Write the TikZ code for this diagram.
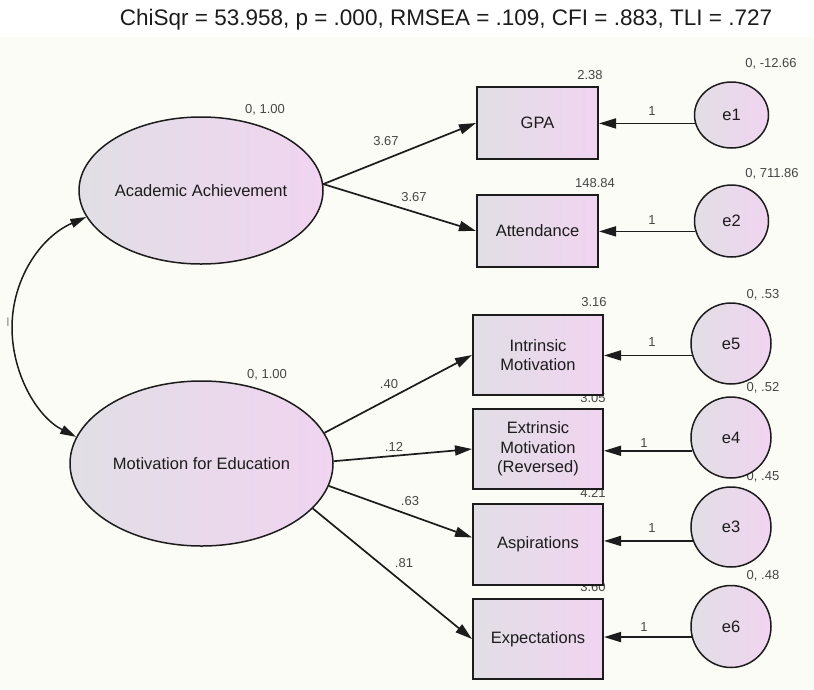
\documentclass[tikz,border=0pt]{standalone}
\usepackage{fontspec}
\setmainfont{Liberation Sans}
\usetikzlibrary{arrows.meta,shapes.geometric}

\definecolor{paper}{RGB}{252,252,246}
\definecolor{shadeL}{RGB}{225,223,229}
\definecolor{shadeR}{RGB}{240,212,240}
\definecolor{ink}{RGB}{28,28,28}
\definecolor{numink}{RGB}{70,70,70}

\begin{document}
\begin{tikzpicture}[x=1pt,y=-1pt,
  every node/.style={font=\fontsize{16.5}{19.3}\selectfont, text=ink},
  latent/.style={ellipse, draw=ink, line width=1.5pt, left color=shadeL, right color=shadeR, inner sep=0pt},
  observed/.style={rectangle, draw=ink, line width=2pt, left color=shadeL, right color=shadeR, inner sep=0pt, align=center},
  errterm/.style={ellipse, draw=ink, line width=1.5pt, left color=shadeL, right color=shadeR, inner sep=0pt},
  est/.style={font=\fontsize{13}{15}\selectfont, text=numink, inner sep=0pt},
  link/.style={draw=ink, line width=1.7pt, -{Triangle[length=17pt,width=10pt]}},
  twoway/.style={draw=ink, line width=1.5pt, {Triangle[length=16pt,width=9pt]}-{Triangle[length=16pt,width=9pt]}},
]
% canvas
\fill[paper] (0,0) rectangle (814,689);
\fill[white] (0,0) rectangle (814,37);
\useasboundingbox (0,0) rectangle (814,689);

% fit statistics
\node[font=\fontsize{22.5}{26}\selectfont] (fit) at (446,20) {ChiSqr = 53.958, p = .000, RMSEA = .109, CFI = .883, TLI = .727};

% estimates placed before the shapes so the shapes overlap them
\node[est] (vAA) at (265,110) {0, 1.00};
\node[est] (vME) at (267,375) {0, 1.00};
\node[est] (iGPA) at (590,75) {2.38};
\node[est] (iATT) at (595,183) {148.84};
\node[est] (iINT) at (594,302) {3.16};
\node[est] (iEXT) at (593,398) {3.05};
\node[est] (iASP) at (593,493) {4.21};
\node[est] (iEXP) at (593,587) {3.60};
\node[est] (v1) at (771,64) {0, -12.66};
\node[est] (v2) at (772,174) {0, 711.86};
\node[est] (v5) at (763,295) {0, .53};
\node[est] (v4) at (763,388) {0, .52};
\node[est] (v3) at (763,477) {0, .45};
\node[est] (v6) at (763,576) {0, .48};

% latent variables
\node[latent, minimum width=244pt, minimum height=147pt, label={[name=aaText]center:Academic Achievement}] (aa) at (201,190.5) {};
\node[latent, minimum width=263pt, minimum height=165pt, label={[name=meText]center:Motivation for Education}] (me) at (201.5,463.5) {};

% observed variables
\node[observed, minimum width=121pt, minimum height=72pt] (gpa) at (537.5,123) {GPA};
\node[observed, minimum width=121pt, minimum height=72pt] (att) at (537.5,231) {Attendance};
\node[observed, minimum width=130pt, minimum height=80pt] (int) at (538,355) {Intrinsic\\Motivation};
\node[observed, minimum width=130pt, minimum height=80pt] (ext) at (538,449) {Extrinsic\\Motivation\\(Reversed)};
\node[observed, minimum width=130pt, minimum height=81pt] (asp) at (538,544.5) {Aspirations};
\node[observed, minimum width=130pt, minimum height=80pt] (exp) at (538,639) {Expectations};

% error terms
\node[errterm, minimum width=74pt, minimum height=66pt] (e1) at (731.5,115) {e1};
\node[errterm, minimum width=74pt, minimum height=72pt] (e2) at (731.5,221) {e2};
\node[errterm, minimum width=80pt, minimum height=81pt] (e5) at (731,343.5) {e5};
\node[errterm, minimum width=80pt, minimum height=81pt] (e4) at (731,437.5) {e4};
\node[errterm, minimum width=80pt, minimum height=80pt] (e3) at (731,527) {e3};
\node[errterm, minimum width=80pt, minimum height=82pt] (e6) at (731,626.5) {e6};

% loadings
\draw[link] (aa.3) -- (gpa.west);
\draw[link] (aa.3) -- (att.west);
\draw[link] (me.14.6) -- (int.west);
\draw[link] (me.1.6) -- (ext.west);
\draw[link] (me.-10.6) -- ([yshift=7pt]asp.west);
\draw[link] (me.-22.6) -- (exp.west);

% error paths
\draw[link] (e1.193) -- (e1.193 -| gpa.east);
\draw[link] (e2.196) -- (e2.196 -| att.east);
\draw[link] (e5.197) -- (e5.197 -| int.east);
\draw[link] (e4.199) -- (e4.199 -| ext.east);
\draw[link] (e3.200) -- (e3.200 -| asp.east);
\draw[link] (e6.195) -- (e6.195 -| exp.east);

% covariance between the latent variables
\draw[twoway] (aa.193) .. controls (39.7,237.3) and (12,280) .. (12,327.5)
  .. controls (12,373) and (36.4,416.5) .. (me.168);

% path labels
\node[est] (lGPA) at (386,141) {3.67};
\node[est] (lATT) at (414,197) {3.67};
\node[est] (lINT) at (389,384) {.40};
\node[est] (lEXT) at (394,447) {.12};
\node[est] (lASP) at (410,501) {.63};
\node[est] (lEXP) at (404,563) {.81};
\node[est] (w1) at (652,111) {1};
\node[est] (w2) at (652,220) {1};
\node[est] (w5) at (652,342) {1};
\node[est] (w4) at (644,443) {1};
\node[est] (w3) at (652,528) {1};
\node[est] (w6) at (644,627) {1};
\node[est, font=\fontsize{9}{10}\selectfont] (cov) at (8,322) {|};
\end{tikzpicture}
\end{document}
